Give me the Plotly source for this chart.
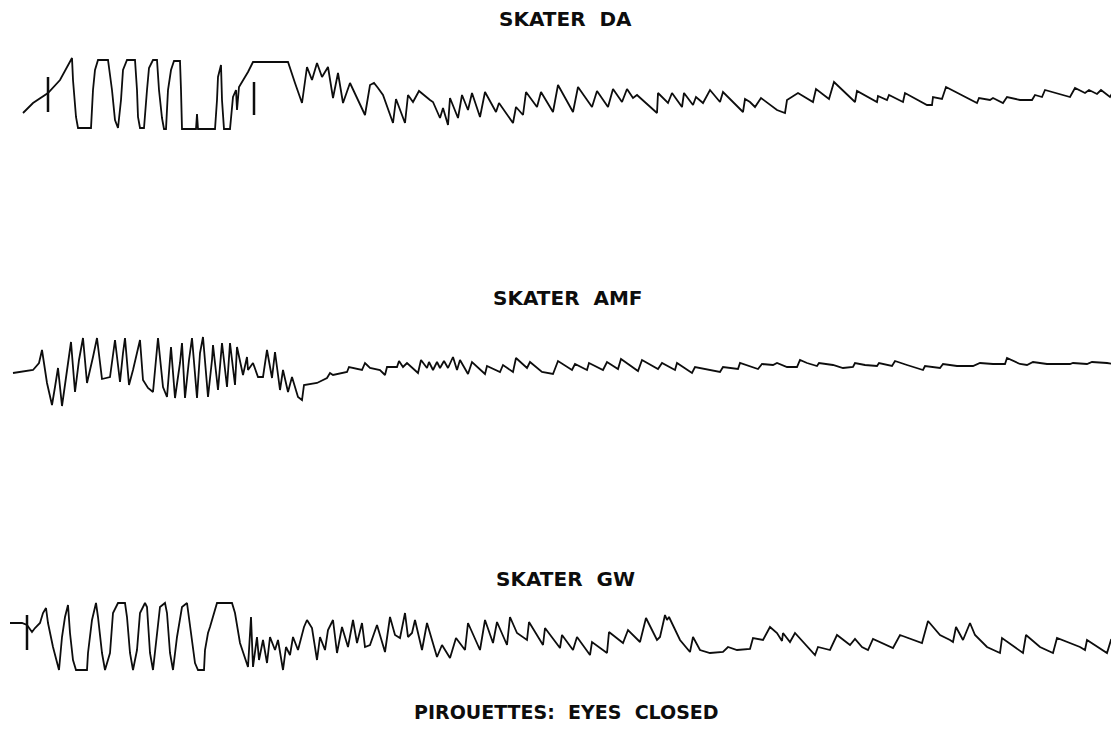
import plotly.graph_objects as go

# ---------------- data (time in chart units, deflection in arbitrary units) ----------------
da_t = [23, 33, 48, 60, 72, 73, 76, 78, 91, 93, 95, 98, 108, 112, 115, 118, 121, 123, 127, 135,
        137, 138, 140, 144, 147, 149, 153, 157, 159, 162, 164, 166, 168, 171, 174, 180, 181, 182,
        196, 197, 198, 215, 217, 218, 221, 222, 224, 230, 233, 236, 237, 239, 245, 248, 253, 288,
        295, 302, 307, 312, 317, 322, 328, 333, 338, 343, 350, 365, 370, 374, 378, 383, 393, 396,
        405, 408, 413, 419, 430, 433, 440, 443, 448, 450, 458, 462, 468, 472, 480, 485, 496, 499,
        513, 516, 523, 526, 537, 541, 553, 558, 573, 578, 592, 597, 608, 613, 622, 627, 633, 637,
        657, 658, 668, 672, 682, 684, 693, 696, 703, 710, 720, 723, 743, 745, 750, 755, 761, 777,
        785, 787, 798, 813, 816, 829, 834, 855, 857, 877, 878, 887, 889, 903, 905, 927, 932, 933,
        942, 946, 977, 979, 990, 993, 1003, 1007, 1020, 1032, 1035, 1042, 1045, 1070, 1075, 1085,
        1089, 1097, 1101, 1110, 1113, 1119]
da_v = [-13, -3, 7, 20, 42, 20, -17, -28, -28, 10, 30, 40, 40, 10, -20, -28, 0, 30, 40, 40,
        10, -17, -28, -28, 10, 32, 40, 40, 10, -18, -29, -29, 10, 30, 39, 39, 10, -29,
        -29, -14, -29, -29, 0, 23, 35, 0, -29, -29, 3, 10, -10, 13, 23, 28, 38, 38,
        17, -3, 33, 20, 37, 23, 33, 2, 27, -3, 17, -15, 15, 17, 12, 5, -23, 1,
        -23, 5, -2, 9, 0, -2, -18, -8, -25, 2, -18, 5, -10, 7, -17, 8, -12, -3,
        -23, -7, -15, 8, -7, 8, -12, 15, -12, 13, -7, 9, -7, 11, -2, 11, 2, 5,
        -13, 7, -3, 7, -7, 7, -5, 3, -3, 10, -2, 8, -12, 1, -2, -7, 2, -10,
        -13, 0, 7, -2, 11, 1, 18, -2, 9, -2, 4, 0, 5, -2, 7, -5, -5, 3,
        1, 13, -3, 2, 0, 2, -3, 3, 0, 0, 5, 3, 10, 3, 12, 7,
        10, 6, 10, 3, 8, 7]
da_mark_t = [48, 48, None, 254, 254]
da_mark_v = [23, -12, None, 18, -15]

amf_t = [13, 33, 39, 42, 47, 52, 55, 58, 62, 67, 71, 75, 79, 83, 87, 93, 97, 102, 110, 115,
         120, 123, 125, 129, 133, 140, 143, 148, 153, 158, 163, 167, 171, 175, 180, 182, 185, 189,
         192, 197, 200, 203, 208, 212, 213, 218, 222, 227, 230, 235, 237, 243, 247, 248, 253, 258,
         263, 267, 272, 275, 280, 283, 288, 292, 298, 302, 304, 317, 327, 330, 333, 347, 349, 362,
         365, 370, 380, 385, 387, 397, 399, 403, 407, 418, 421, 427, 429, 433, 437, 440, 444, 448,
         453, 457, 460, 468, 472, 485, 487, 500, 503, 513, 516, 527, 530, 542, 553, 558, 572, 575,
         587, 589, 603, 607, 618, 621, 638, 642, 658, 662, 675, 677, 692, 695, 720, 723, 738, 740,
         750, 758, 762, 773, 777, 787, 797, 800, 807, 817, 819, 833, 843, 853, 855, 865, 877, 879,
         892, 895, 907, 923, 925, 932, 940, 943, 957, 973, 980, 993, 1005, 1007, 1020, 1027, 1033,
         1047, 1070, 1073, 1087, 1092, 1107, 1119]
amf_v = [-3, 0, 7, 20, -13, -35, -17, 2, -36, 0, 28, -22, 10, 32, -13, 13, 32, -9, -7, 30,
         -12, 17, 32, -15, 0, 30, -10, -18, -22, 32, -17, -27, 23, -28, 7, 27, -28, 10,
         32, -28, 17, 33, -27, 10, 25, -20, 27, -17, 27, -15, 23, -5, 13, 0, 7, -7,
         -7, 20, -8, 18, -20, 0, -22, -7, -27, -30, -15, -13, -8, -3, -5, -2, 3, 0,
         7, 2, 0, -5, 3, 3, 9, 3, 7, -3, 10, 2, 8, 0, 8, 2, 9, 2,
         13, 0, 10, -4, 8, -4, 4, -2, 5, -2, 12, 2, 8, -2, -4, 9, 0, 6,
         0, 7, 0, 8, 1, 11, -1, 10, 1, 7, 0, 7, -3, 3, -2, 3, 1, 7,
         4, 1, 6, 5, 7, 3, 3, 10, 7, 4, 7, 5, 2, 3, 7, 5, 4, 7,
         4, 9, 5, 0, 4, 3, 2, 6, 4, 4, 7, 6, 6, 12, 6, 5, 8,
         6, 6, 7, 6, 8, 7, 5]

gw_t = [10, 22, 27, 32, 35, 40, 43, 46, 48, 53, 59, 62, 65, 68, 70, 73, 76, 87, 88, 92,
        96, 98, 102, 105, 110, 113, 118, 125, 127, 130, 133, 137, 140, 145, 147, 150, 153, 157,
        160, 165, 167, 170, 173, 177, 182, 187, 190, 195, 198, 204, 205, 208, 210, 217, 232, 235,
        240, 248, 251, 253, 257, 259, 263, 267, 270, 275, 278, 283, 286, 290, 293, 298, 304, 307,
        312, 317, 320, 325, 328, 333, 337, 342, 348, 353, 357, 362, 365, 370, 377, 385, 390, 395,
        400, 405, 408, 412, 415, 422, 427, 437, 442, 447, 450, 456, 465, 468, 480, 485, 493, 497,
        507, 510, 517, 527, 529, 543, 545, 560, 562, 573, 577, 590, 592, 607, 609, 623, 628, 640,
        646, 657, 660, 665, 667, 669, 680, 690, 693, 700, 710, 723, 728, 737, 750, 753, 763, 770,
        777, 782, 783, 790, 795, 815, 818, 830, 837, 850, 855, 862, 868, 873, 893, 900, 922, 928,
        940, 950, 953, 956, 963, 970, 975, 987, 1000, 1002, 1023, 1026, 1040, 1053, 1057, 1080,
        1085, 1087, 1107, 1111, 1119]
gw_v = [17, 17, 15, 8, 12, 17, 27, 32, 17, -7, -30, 3, 23, 35, 7, -20, -30, -30, -13, 20,
        37, 23, -13, -30, -13, 27, 37, 37, 23, -13, -30, -10, 27, 37, 33, -13, -30, 3,
        33, 37, 27, -13, -30, 3, 33, 37, 13, -23, -30, -30, -10, 7, 13, 37, 37, 27,
        -3, -27, 23, -27, 3, -20, 0, -23, 3, -10, 0, -30, -7, -15, 3, -10, 13, 20,
        12, -20, 3, -10, 10, 20, -13, 13, -7, 20, -3, 17, -7, -5, 15, -12, 23, 5,
        2, 27, 3, 7, 20, -10, 17, -17, -5, -13, -18, 2, -10, 17, -10, 20, -3, 18,
        -5, 23, 7, 0, 18, -5, 12, -8, 5, -10, 3, -15, -2, -13, 8, -3, 10, -2,
        22, 0, 3, 25, 20, 23, 0, -12, 3, -10, -13, -12, -7, -10, -9, 2, 0, 13,
        7, -1, 7, -2, 7, -15, -7, -10, 5, -5, 1, -7, -10, 1, -8, 5, -3, 19,
        5, 0, -2, 13, 0, 17, 5, -7, -13, 2, -13, 5, -7, -13, 2, -7,
        -10, 0, -13, 0, -3]
gw_mark_t = [27, 27]
gw_mark_v = [25, -10]

titles = ["SKATER  DA", "SKATER  AMF", "SKATER  GW", "PIROUETTES:  EYES  CLOSED"]

# ---------------- figure ----------------
PAGE_W, PAGE_H = 1119, 753
OFF = 8                      # default body margin of the html page
W, H = PAGE_W - OFF, PAGE_H - OFF
ink = "#0d0d0d"
line = dict(color=ink, width=1.8)

fig = go.Figure()
fig.add_trace(go.Scatter(x=da_t, y=da_v, mode="lines", line=line, yaxis="y", hoverinfo="skip"))
fig.add_trace(go.Scatter(x=da_mark_t, y=da_mark_v, mode="lines", line=dict(color=ink, width=2.5),
                         yaxis="y", hoverinfo="skip"))
fig.add_trace(go.Scatter(x=amf_t, y=amf_v, mode="lines", line=line, yaxis="y2", hoverinfo="skip"))
fig.add_trace(go.Scatter(x=gw_t, y=gw_v, mode="lines", line=line, yaxis="y3", hoverinfo="skip"))
fig.add_trace(go.Scatter(x=gw_mark_t, y=gw_mark_v, mode="lines", line=dict(color=ink, width=2.5),
                         yaxis="y3", hoverinfo="skip"))

def pfrac(px):
    return 1 - (px - OFF) / H

def xfrac(px):
    return (px - OFF) / W

hidden = dict(visible=False, showgrid=False, zeroline=False, fixedrange=True)
fig.update_layout(
    width=W, height=H,
    margin=dict(l=0, r=0, t=0, b=0),
    paper_bgcolor="white", plot_bgcolor="white",
    showlegend=False,
    xaxis=dict(range=[OFF, PAGE_W], domain=[0, 1], **hidden),
    yaxis=dict(range=[-60, 60], domain=[pfrac(160), pfrac(40)], anchor="x", **hidden),
    yaxis2=dict(range=[-50, 50], domain=[pfrac(420), pfrac(320)], anchor="x", **hidden),
    yaxis3=dict(range=[-50, 70], domain=[pfrac(690), pfrac(570)], anchor="x", **hidden),
)

for txt, xc, ypx, size in [(titles[0], 565, 19, 20), (titles[1], 568, 298, 20),
                           (titles[2], 565, 579, 20), (titles[3], 566, 712, 19)]:
    fig.add_annotation(text=txt, x=xfrac(xc), y=pfrac(ypx), xref="paper", yref="paper",
                       xanchor="center", yanchor="middle", showarrow=False,
                       font=dict(family="DejaVu Sans", size=size, color=ink, weight="bold"))

fig.write_html("out.html")
